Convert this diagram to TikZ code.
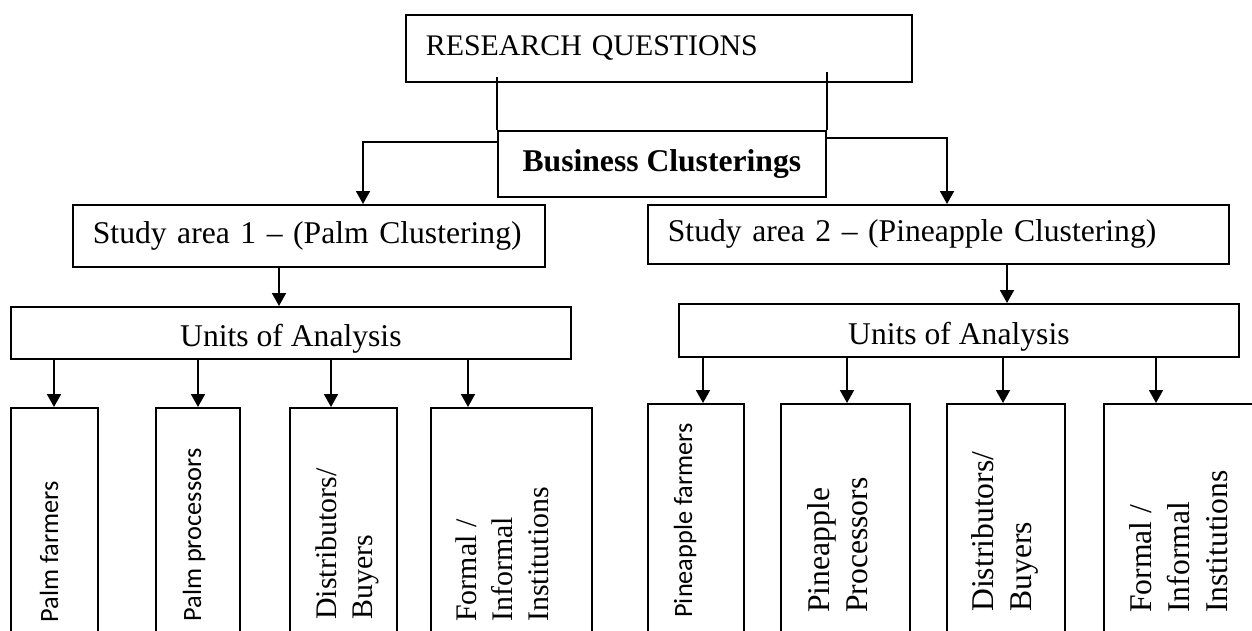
\documentclass[tikz,border=0pt]{standalone}
\usepackage{fontspec}
\setmainfont{Liberation Serif}
\newfontfamily\calibri{Carlito}
\usetikzlibrary{arrows.meta}
\newdimen\pxu
\pxu=0.2mm

\begin{document}
\begin{tikzpicture}[x=0.2mm,y=-0.2mm,
  box/.style={draw=black,line width=1pt,rectangle,inner sep=0pt,anchor=north west,font=\fontsize{18}{21.6}\selectfont},
  leftbox/.style={box,align=left,inner xsep=20\pxu},
  colbox/.style={box,minimum height=240\pxu},
  vtext/.style={rotate=90,anchor=west,inner sep=0pt,align=left},
  sanscol/.style={vtext,font=\calibri\fontsize{15}{18}\selectfont},
  palmcol/.style={vtext,font=\fontsize{17}{20.5}\selectfont},
  pinecol/.style={vtext,font=\fontsize{18}{21.6}\selectfont},
  link/.style={draw=black,line width=1.1pt},
  flow/.style={link,-{Triangle[width=2.8mm,length=2.6mm]}}
]
\useasboundingbox (0,0) rectangle (1252,630);
\clip (0,0) rectangle (1252,630);
\fill[white] (0,0) rectangle (1252,630);
\node[leftbox,minimum width=506\pxu,minimum height=67\pxu,text width=466\pxu,font=\fontsize{17}{20}\selectfont] (rq) at (405,14) {RESEARCH QUESTIONS};
\node[box,minimum width=328\pxu,minimum height=66\pxu,font=\bfseries\fontsize{18}{21.6}\selectfont] (bc) at (497,130) {Business Clusterings};
\draw[link] (bc.north west) -- ++(0,-53); \draw[link] (bc.north east) -- ++(0,-58);
\node[leftbox,minimum width=472\pxu,minimum height=62\pxu,text width=432\pxu] (s1) at (72,204) {Study area 1 – (Palm Clustering)};
\node[leftbox,minimum width=581\pxu,minimum height=59\pxu,text width=541\pxu] (s2) at (647,204) {Study area 2 – (Pineapple Clustering)};
\coordinate (j1) at (363,142); \coordinate (j2) at (947,138);
\draw[flow] (bc.west |- j1) -- (j1) -- (j1 |- s1.north);
\draw[flow] (bc.east |- j2) -- (j2) -- (j2 |- s2.north);
\node[box,minimum width=560\pxu,minimum height=52\pxu,text height=28\pxu,text depth=0pt] (u1) at (10,306) {Units of Analysis};
\node[box,minimum width=560\pxu,minimum height=53\pxu,text height=28\pxu,text depth=0pt] (u2) at (678,303) {Units of Analysis};
\coordinate (k1) at (279,0); \coordinate (k2) at (1007,0);
\draw[flow] (s1.south -| k1) -- (u1.north -| k1);
\draw[flow] (s2.south -| k2) -- (u2.north -| k2);
\node[colbox,minimum width=87\pxu] (pa1) at (10,407) {}; \node[colbox,minimum width=84\pxu] (pa2) at (155,407) {};
\node[colbox,minimum width=107\pxu] (pa3) at (289,407) {}; \node[colbox,minimum width=161\pxu] (pa4) at (430,407) {};
\node[colbox,minimum width=96\pxu] (pi1) at (647,403) {}; \node[colbox,minimum width=129\pxu] (pi2) at (780,403) {};
\node[colbox,minimum width=118\pxu] (pi3) at (946,403) {}; \node[colbox,minimum width=155\pxu] (pi4) at (1103,403) {};
\coordinate (a1) at (54,0); \coordinate (a2) at (198,0); \coordinate (a3) at (331,0); \coordinate (a4) at (468,0);
\coordinate (b1) at (703,0); \coordinate (b2) at (847,0); \coordinate (b3) at (1003,0); \coordinate (b4) at (1156,0);
\draw[flow] (u1.south -| a1) -- (pa1.north -| a1); \draw[flow] (u1.south -| a2) -- (pa2.north -| a2);
\draw[flow] (u1.south -| a3) -- (pa3.north -| a3); \draw[flow] (u1.south -| a4) -- (pa4.north -| a4);
\draw[flow] (u2.south -| b1) -- (pi1.north -| b1); \draw[flow] (u2.south -| b2) -- (pi2.north -| b2);
\draw[flow] (u2.south -| b3) -- (pi3.north -| b3); \draw[flow] (u2.south -| b4) -- (pi4.north -| b4);
\node[sanscol] (pa1t) at (49,623) {Palm farmers};
\node[sanscol] (pa2t) at (194,622) {Palm processors};
\node[palmcol] (pa3t) at (347,620) {Distributors/\\Buyers};
\node[palmcol] (pa4t) at (502,622) {Formal /\\Informal\\Institutions};
\node[sanscol] (pi1t) at (685,618) {Pineapple farmers};
\node[pinecol] (pi2t) at (838,613) {Pineapple\\Processors};
\node[pinecol] (pi3t) at (1005,612) {Distributors/\\Buyers};
\node[pinecol] (pi4t) at (1179,613) {Formal /\\Informal\\Institutions};
\end{tikzpicture}
\end{document}
